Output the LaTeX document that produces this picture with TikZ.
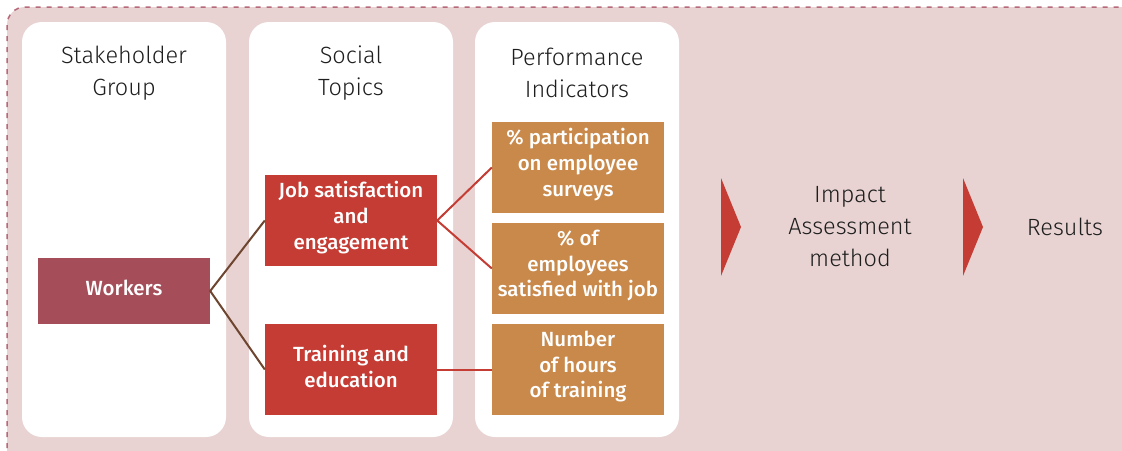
\documentclass[tikz,border=0pt]{standalone}
\usepackage{fontspec}
\setmainfont{Fira Sans}
\newfontfamily\lightfont{Fira Sans Light}
\newfontfamily\medfont{Fira Sans Medium}
\definecolor{bgpink}{HTML}{E8D3D2}
\definecolor{dashpink}{HTML}{B5697A}
\definecolor{mauve}{HTML}{A54E5A}
\definecolor{boxred}{HTML}{C43C33}
\definecolor{boxorange}{HTML}{C8894B}
\definecolor{linkbrown}{HTML}{6E4630}
\definecolor{txtdark}{HTML}{1E1E1E}
\tikzset{
  panel/.style={fill=white, draw=none, rounded corners=20pt},
  header/.style={align=center, text=txtdark, font=\lightfont\fontsize{23.5}{32}\selectfont},
  cellbox/.style={draw=none, minimum width=172pt, inner sep=0pt},
  celltext/.style={text=white, align=center, inner sep=0pt, yshift=3pt,
     font=\medfont\fontsize{20.5}{25.8}\selectfont},
  redbox/.style={cellbox, fill=boxred, minimum height=91pt},
  orangebox/.style={cellbox, fill=boxorange, minimum height=91pt},
  brownlink/.style={draw=linkbrown, line width=2pt},
  redlink/.style={draw=boxred, line width=2pt},
  chevron/.style={fill=boxred, draw=none},
  plain/.style={align=center, text=txtdark, font=\lightfont\fontsize{23.5}{32}\selectfont},
}
\begin{document}
\begin{tikzpicture}[x=1pt, y=-1pt]
\useasboundingbox (0,0) rectangle (1122,450);
\draw[fill=bgpink, draw=dashpink, line width=1.5pt, dash pattern=on 5pt off 6pt, rounded corners=18pt]
  (7,7) rectangle (1140,468);
% panels
\fill[panel] (22,22) rectangle (226,437);
\fill[panel] (249,22) rectangle (453,437);
\fill[panel] (475,22) rectangle (679,437);
% headers
\node[header] (h1) at (124,73) {Stakeholder\\Group};
\node[header] (h2) at (351,73) {Social\\Topics};
\node[header] (h3) at (577,73) {Performance\\Indicators};
% boxes
\node[cellbox, fill=mauve, minimum height=66pt] (workers) at (124,291) {};
\node[redbox] (job) at (351,220.5) {};
\node[redbox] (train) at (351,369.5) {};
\node[orangebox] (p1) at (578,167.5) {};
\node[orangebox] (p2) at (578,268.5) {};
\node[orangebox] (p3) at (578,369.5) {};
\node[celltext] (workers-t) at (workers) {Workers};
\node[celltext] (job-t) at (job) {Job satisfaction\\and\\engagement};
\node[celltext] (train-t) at (train) {Training and\\education};
\node[celltext] (p1-t) at (p1) {\% participation\\on employee\\surveys};
\node[celltext] (p2-t) at (p2) {\% of\\employees\\satisfied with job};
\node[celltext] (p3-t) at (p3) {Number\\of hours\\of training};
% links
\draw[brownlink] (job.west) -- (workers.east) -- (train.west);
\draw[redlink] (p1.west) -- (job.east) -- (p2.west);
\draw[redlink] (train.east) -- (p3.west);
% chevrons and results
\coordinate (c1a) at (721,178);
\coordinate (c1b) at (741,227);
\coordinate (c1c) at (721,276);
\fill[chevron] (c1a) -- (c1b) -- (c1c) -- cycle;
\coordinate (c2a) at (963,178);
\coordinate (c2b) at (983,227);
\coordinate (c2c) at (963,276);
\fill[chevron] (c2a) -- (c2b) -- (c2c) -- cycle;
\node[plain] (impact) at (850,227) {Impact\\Assessment\\method};
\node[plain] (results) at (1065,227) {Results};
\end{tikzpicture}
\end{document}
